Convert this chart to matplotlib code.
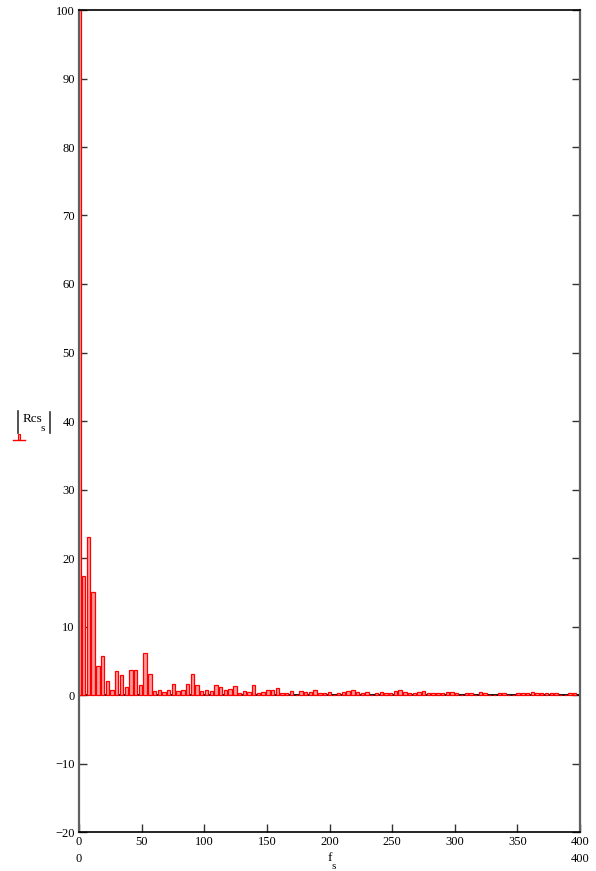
import numpy as np
import matplotlib
matplotlib.use("Agg")
import matplotlib.pyplot as plt
from matplotlib.lines import Line2D
from matplotlib.patches import Rectangle

# ---- data ----
df = 3.77  # frequency step between bars
rcs = [100, 17.3, 23.1, 15.1, 4.2, 5.65, 2.1, 0.7, 3.5, 2.9,
       1.2, 3.65, 3.65, 1.5, 6.2, 3.0, 0.6, 0.8, 0.5, 0.8,
       1.6, 0.6, 0.8, 1.6, 3.1, 1.5, 0.6, 0.75, 0.55, 1.5,
       1.1, 0.75, 0.9, 1.25, 0.3, 0.55, 0.4, 1.5, 0.3, 0.4,
       0.75, 0.8, 0.95, 0.3, 0.3, 0.6, 0.02, 0.6, 0.4, 0.4,
       0.8, 0.3, 0.3, 0.5, 0.02, 0.3, 0.45, 0.65, 0.8, 0.4,
       0.3, 0.4, 0.02, 0.3, 0.4, 0.3, 0.3, 0.65, 0.75, 0.4,
       0.25, 0.25, 0.4, 0.6, 0.25, 0.25, 0.25, 0.25, 0.4, 0.4,
       0.25, 0.02, 0.25, 0.25, 0.02, 0.4, 0.25, 0.02, 0.02, 0.25,
       0.25, 0.02, 0.02, 0.25, 0.25, 0.25, 0.4, 0.25, 0.25, 0.25,
       0.25, 0.25, 0.02, 0.02, 0.25, 0.25]
f = np.arange(len(rcs)) * df

x_ticks = [0, 50, 100, 150, 200, 250, 300, 350, 400]
y_ticks = [-20, -10, 0, 10, 20, 30, 40, 50, 60, 70, 80, 90, 100]
x_min, x_max = 0, 400
y_min, y_max = -20, 100

plt.rcParams['font.family'] = ['Liberation Serif', 'DejaVu Serif']

W, H = 596, 871
fig = plt.figure(figsize=(W / 100, H / 100), dpi=100)
ax = fig.add_axes([79 / W, 1 - 832 / H, (580 - 79) / W, (832 - 10) / H])

ax.axhline(0, color='black', lw=1.3, zorder=2)
ax.bar(f, rcs, width=2.7, facecolor='#ff9a9a', edgecolor='#ff0000',
       linewidth=0.9, zorder=3)

ax.set_xlim(x_min, x_max)
ax.set_ylim(y_min, y_max)
ax.set_xticks(x_ticks)
ax.set_yticks(y_ticks)
ax.set_yticklabels([str(v).replace('-', '\u2212') for v in y_ticks])
ax.tick_params(axis='y', direction='in', length=5.5, width=1.0, left=True,
               right=True, labelsize=9, pad=3, color='#333333')
ax.tick_params(axis='x', direction='in', length=6, width=1.0, bottom=True,
               top=False, labelsize=9, pad=3, color='#333333')

for s in ['left', 'right']:
    ax.spines[s].set_color('#606060')
    ax.spines[s].set_linewidth(1.6)
for s in ['top', 'bottom']:
    ax.spines[s].set_color('black')
    ax.spines[s].set_linewidth(1.2)
for s in ax.spines.values():
    s.set_zorder(4)

# axis limit labels (second row)
fig.text(79 / W, 1 - 859 / H, str(x_min), ha='center', va='center', fontsize=9)
fig.text(580 / W, 1 - 859 / H, str(x_max), ha='center', va='center', fontsize=9)

# x label f_s
fig.text(330 / W, 1 - 858 / H, 'f', ha='center', va='center', fontsize=9.5)
fig.text(334 / W, 1 - 866 / H, 's', ha='center', va='center', fontsize=8)

# y label |Rcs_s|
fig.text(23 / W, 1 - 419 / H, 'Rcs', ha='left', va='center', fontsize=9.5)
fig.text(43 / W, 1 - 428 / H, 's', ha='center', va='center', fontsize=8)
fig.add_artist(Line2D([17.5 / W, 17.5 / W], [1 - 411 / H, 1 - 433 / H],
                      color='#333333', lw=1.2))
fig.add_artist(Line2D([50 / W, 50 / W], [1 - 412 / H, 1 - 433 / H],
                      color='#333333', lw=1.2))
# legend glyph (red bar trace symbol)
fig.add_artist(Line2D([13 / W, 25 / W], [1 - 440.5 / H, 1 - 440.5 / H],
                      color='#ff0000', lw=1.0))
fig.add_artist(Rectangle((17.5 / W, 1 - 440.5 / H), 2.5 / W, 7 / H,
                         facecolor='#ff9a9a', edgecolor='#ff0000', lw=0.8,
                         transform=fig.transFigure))

fig.savefig('out.png', dpi=100)
